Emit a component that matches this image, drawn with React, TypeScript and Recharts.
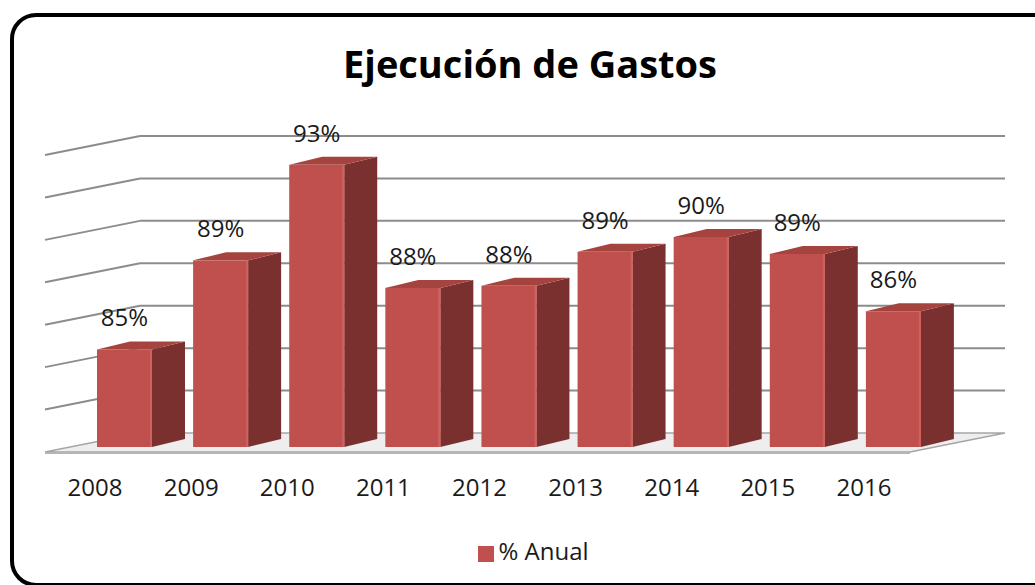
import { Bar, BarChart, CartesianGrid, LabelList, Legend, XAxis, YAxis } from "recharts";

const YEARS = ["2008", "2009", "2010", "2011", "2012", "2013", "2014", "2015", "2016"];
const ANUAL = [84.6, 88.8, 93.3, 87.5, 87.6, 89.2, 89.9, 89.1, 86.4];
const Y_TICKS = [80, 82, 84, 86, 88, 90, 92, 94];

const FONT = "'Open Sans', 'DejaVu Sans', sans-serif";
const FRONT = "#c0504d";
const SIDE = "#7a302e";
const TOP = "#a5433f";
const GRID = "#8c8c8c";

// 3D look: bar depth and back-wall offsets (px)
const BAR_DX = 33;
const BAR_DY = 8;
const WALL_DX = 64;
const WALL_DY = 14;
const FRONT_DX = -31;
const FRONT_DY = 5;

const data = YEARS.map((year, i) => ({ year, value: ANUAL[i] }));

function GridLine(props: any) {
  const { x1, x2, y1, y, height } = props;
  const bx1 = x1 + WALL_DX;
  const bx2 = x2 + WALL_DX;
  const by = y1 - WALL_DY;
  const fx1 = x1 + FRONT_DX;
  const fx2 = x2 + FRONT_DX;
  const fy = y1 + FRONT_DY;
  const isFloor = Math.abs(y1 - (y + height)) < 1;
  if (isFloor) {
    return (
      <g>
        <polygon
          points={`${fx1},${fy} ${bx1},${by} ${bx2},${by} ${fx2},${fy}`}
          fill="#eeeeee"
          stroke="#a6a6a6"
          strokeWidth={1.5}
        />
        <line x1={fx1} y1={fy + 1} x2={fx2} y2={fy + 1} stroke="#b5b5b5" strokeWidth={2} />
      </g>
    );
  }
  return (
    <g>
      <line x1={fx1} y1={fy} x2={bx1} y2={by} stroke={GRID} strokeWidth={2} />
      <line x1={bx1} y1={by} x2={bx2} y2={by} stroke={GRID} strokeWidth={2} />
    </g>
  );
}

function Bar3D(props: any) {
  const { x, y, width, height } = props;
  if (!height || height <= 0) return null;
  const r = x + width;
  const b = y + height;
  return (
    <g>
      <polygon points={`${r},${y} ${r + BAR_DX},${y - BAR_DY} ${r + BAR_DX},${b - BAR_DY} ${r},${b}`} fill={SIDE} />
      <polygon points={`${x},${y} ${r},${y} ${r + BAR_DX},${y - BAR_DY} ${x + BAR_DX},${y - BAR_DY}`} fill={TOP} />
      <rect x={x} y={y} width={width} height={height} fill={FRONT} />
      <line x1={r - 1} y1={y} x2={r - 1} y2={b} stroke="#d0625e" strokeWidth={2} />
    </g>
  );
}

function YearTick(props: any) {
  const { x, y, payload } = props;
  return (
    <text x={x - 29} y={y} dy={49} textAnchor="middle" fontSize={24} fontFamily={FONT} fill="#1a1a1a">
      {payload.value}
    </text>
  );
}

export default function App() {
  return (
    <div style={{ position: "absolute", left: 0, top: 0, width: 1035, height: 585, background: "#fff", overflow: "hidden" }}>
      <BarChart
        width={1035}
        height={585}
        data={data}
        margin={{ top: 150, right: 94, left: 76, bottom: 18 }}
        style={{ fontFamily: FONT }}
      >
        <CartesianGrid horizontal={GridLine} vertical={false} />
        <XAxis
          dataKey="year"
          height={87}
          tickLine={false}
          axisLine={false}
          tickSize={0}
          tickMargin={0}
          tick={YearTick}
          interval={0}
        />
        <YAxis hide domain={[80, 94]} ticks={Y_TICKS} />
        <Legend
          verticalAlign="bottom"
          iconType="square"
          iconSize={16}
          wrapperStyle={{ fontSize: 24, fontFamily: FONT, left: 106 }}
          formatter={(value) => <span style={{ color: "#1a1a1a" }}>{value}</span>}
        />
        <Bar
          dataKey="value"
          name="% Anual"
          fill={FRONT}
          barSize={55}
          shape={Bar3D}
          isAnimationActive={false}
        >
          <LabelList
            dataKey="value"
            position="top"
            offset={23}
            formatter={(v: any) => `${Math.round(Number(v))}%`}
            style={{ fontSize: 24, fontFamily: FONT, fill: "#1a1a1a" }}
          />
        </Bar>
      </BarChart>
      <svg width={1035} height={585} style={{ position: "absolute", left: 0, top: 0, pointerEvents: "none" }}>
        <rect x={12} y={15} width={1060} height={570} rx={24} ry={24} fill="none" stroke="#000" strokeWidth={4} />
        <text x={530} y={78} textAnchor="middle" fontSize={38} fontWeight={700} fontFamily={FONT} fill="#000">
          Ejecución de Gastos
        </text>
      </svg>
    </div>
  );
}
